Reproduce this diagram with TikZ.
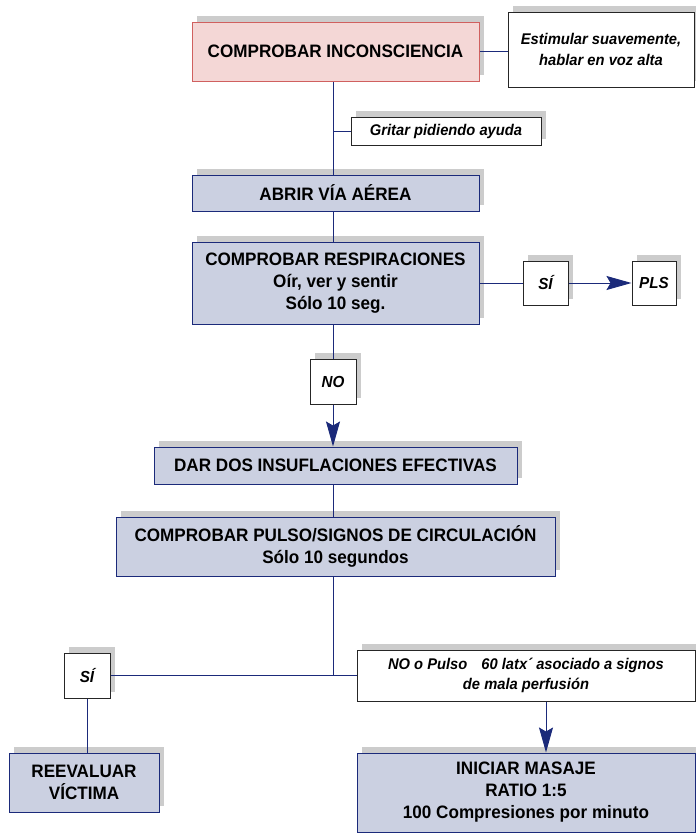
\documentclass[tikz,border=0pt]{standalone}
\usepackage{fontspec}
\setmainfont{Liberation Sans}[FakeStretch=0.95]
\usetikzlibrary{arrows.meta,shadows}
\definecolor{navy}{HTML}{1B2A7A}
\definecolor{stepfill}{HTML}{CBD0E1}
\definecolor{alertfill}{HTML}{F4D7D6}
\definecolor{alertline}{HTML}{D0605F}
\definecolor{shadowgray}{HTML}{CCCCCC}
\begin{document}
\begin{tikzpicture}[x=1pt,y=-1pt,
  boxshadow/.style={drop shadow={opacity=1,fill=shadowgray,shadow xshift=5pt,shadow yshift=6pt}},
  basebox/.style={rectangle,inner sep=0pt,align=center,boxshadow},
  stepbox/.style={basebox,draw=navy,line width=1pt,fill=stepfill,
    font=\bfseries\fontsize{18}{22}\selectfont},
  alertbox/.style={basebox,draw=alertline,line width=1pt,fill=alertfill,
    font=\bfseries\fontsize{18}{22}\selectfont},
  notebox/.style={basebox,draw=black!85,line width=1pt,fill=white,
    font=\bfseries\itshape\fontsize{15.5}{21}\selectfont},
  answerbox/.style={basebox,draw=black!85,line width=1pt,fill=white,
    font=\bfseries\itshape\fontsize{16}{20}\selectfont},
  link/.style={draw=navy,line width=1pt},
  arrowlink/.style={link,-{Stealth[length=25pt,width=14pt,inset=4pt]}},
]
\useasboundingbox (0,0) rectangle (696,833);

% boxes, top to bottom
\node[alertbox,minimum width=287pt,minimum height=59pt] (check) at (335.5,51.5) {COMPROBAR INCONSCIENCIA};
\node[notebox,minimum width=186pt,minimum height=75pt] (stim) at (601,49.5) {Estimular suavemente,\\hablar en voz alta};
\node[notebox,minimum width=190pt,minimum height=28pt] (shout) at (446,131) {Gritar pidiendo ayuda};
\node[stepbox,minimum width=287pt,minimum height=36pt] (airway) at (335.5,193) {ABRIR VÍA AÉREA};
\node[stepbox,minimum width=287pt,minimum height=82pt] (breath) at (335.5,283) {COMPROBAR RESPIRACIONES\\Oír, ver y sentir\\Sólo 10 seg.};
\node[answerbox,minimum width=45pt,minimum height=44pt] (yesA) at (545.5,283) {SÍ};
\node[answerbox,minimum width=44pt,minimum height=44pt] (pls) at (654,283) {PLS};
\node[answerbox,minimum width=46pt,minimum height=45pt] (noA) at (333,381.5) {NO};
\node[stepbox,minimum width=363pt,minimum height=37pt] (insuf) at (335.5,465.5) {DAR DOS INSUFLACIONES EFECTIVAS};
\node[stepbox,minimum width=439pt,minimum height=59pt] (pulse) at (335.5,546.5) {COMPROBAR PULSO/SIGNOS DE CIRCULACIÓN\\Sólo 10 segundos};
\node[answerbox,minimum width=46pt,minimum height=45pt] (yesB) at (87,675.5) {SÍ};
\node[notebox,font=\bfseries\itshape\fontsize{15.5}{20}\selectfont,minimum width=338pt,minimum height=51pt] (noB) at (526,675.5) {NO o Pulso\hspace{14pt}60 latx´ asociado a signos\\de mala perfusión};
\node[stepbox,minimum width=150pt,minimum height=59pt] (reeval) at (84,782.5) {REEVALUAR\\VÍCTIMA};
\node[stepbox,minimum width=338pt,minimum height=79pt] (massage) at (526,792.5) {INICIAR MASAJE\\RATIO 1:5\\100 Compresiones por minuto};

% main trunk
\draw[link] (check.south -| noA.center) -- (airway.north -| noA.center);
\draw[link] (airway.south -| noA.center) -- (breath.north -| noA.center);
\draw[link] (breath.south -| noA.center) -- (noA.north);
\draw[arrowlink] (noA.south) -- (insuf.north -| noA.center);
\draw[link] (insuf.south -| noA.center) -- (pulse.north -| noA.center);
\draw[link] (pulse.south -| noA.center) -- (yesB.east -| noA.center);

% side branches
\draw[link] (check.east) -- (check.east -| stim.west);
\draw[link] (shout.west) -- (shout.west -| noA.center);
\draw[link] (breath.east) -- (yesA.west);
\draw[arrowlink] (yesA.east) -- (pls.west);
\draw[link] (yesB.east) -- (noB.west);
\draw[link] (yesB.south) -- (yesB.south |- reeval.north);
\draw[arrowlink] ([xshift=20pt]noB.south) -- ([xshift=20pt]massage.north);
\end{tikzpicture}
\end{document}
